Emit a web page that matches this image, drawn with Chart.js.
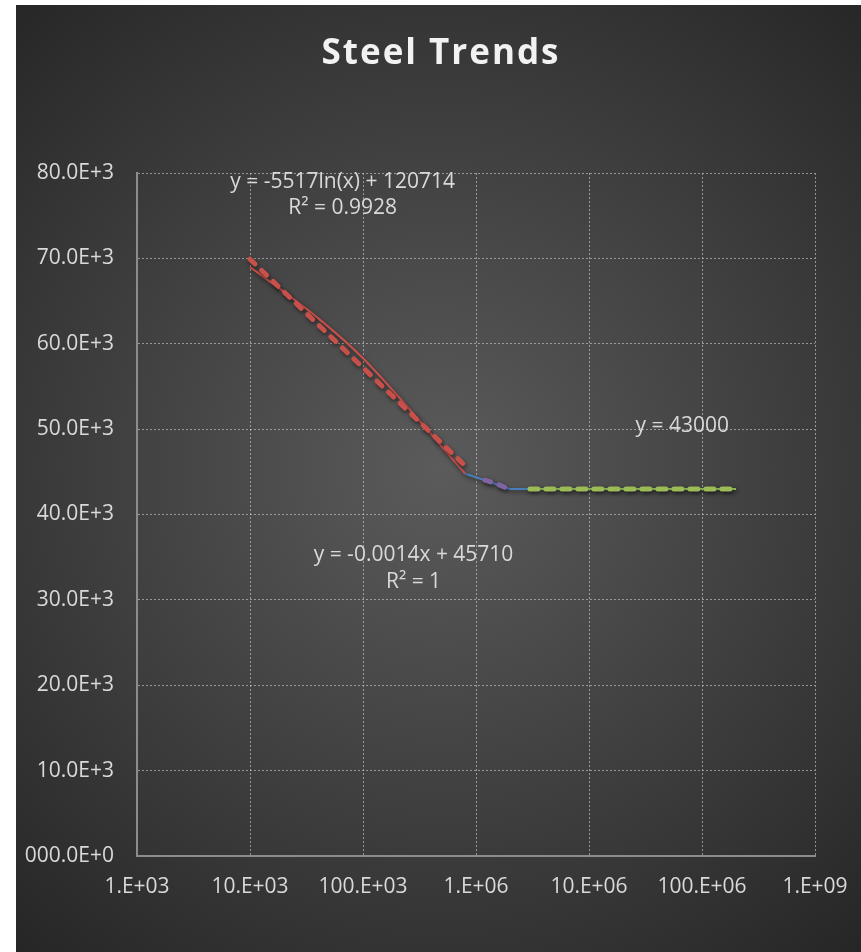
<!DOCTYPE html>
<html>
<head>
<meta charset="utf-8">
<title>Steel Trends</title>
<script src="https://cdn.jsdelivr.net/npm/chart.js@4/dist/chart.umd.min.js"></script>
<style>
  html, body { margin: 0; padding: 0; background: #ffffff; }
  #c { display: block; }
</style>
</head>
<body>
<canvas id="c" width="861" height="952"></canvas>
<script>
// ---- axis ticks ----
const xTickValues = [1e3, 1e4, 1e5, 1e6, 1e7, 1e8, 1e9];
const xTickLabels = ["1.E+03", "10.E+03", "100.E+03", "1.E+06", "10.E+06", "100.E+06", "1.E+09"];
const yTickValues = [0, 10000, 20000, 30000, 40000, 50000, 60000, 70000, 80000];
const yTickLabels = ["000.0E+0", "10.0E+3", "20.0E+3", "30.0E+3", "40.0E+3", "50.0E+3", "60.0E+3", "70.0E+3", "80.0E+3"];

// ---- S-N data (cycles vs. stress) ----
const slopeCycles = [1e4, 4e4, 1e5, 8e5];
const slopeStress = [69000, 63000, 58300, 44800];
const kneeCycles = [8e5, 2e6, 3e6];
const kneeStress = [44800, 43000, 43000];
const enduranceCycles = [3e6, 2e8];
const enduranceStress = [43000, 43000];

// ---- fitted trend lines ----
const logFitA = -5517, logFitB = 120714, logFitR2 = "0.9928";
const logFitRange = [1e4, 8e5];
const linFitM = -0.0014, linFitC = 45710, linFitR2 = "1";
const linFitCycles = [1.2e6, 1.4e6, 1.6e6, 1.8e6, 2e6];
const flatFitValue = 43000;
const flatFitRange = [3e6, 2e8];

const pts = (xs, ys) => xs.map((x, i) => ({ x: x, y: ys[i] }));
const logFitPts = logFitRange.map(x => ({ x: x, y: logFitA * Math.log(x) + logFitB }));
const linFitPts = linFitCycles.map(x => ({ x: x, y: linFitM * x + linFitC }));
const flatFitPts = flatFitRange.map(x => ({ x: x, y: flatFitValue }));

const RED = '#c8504b', BLUE = '#4a7ebb', PURPLE = '#8064a2', GREEN = '#9bbb59';
const TEXT = '#d9d9d9';
const GRID = 'rgba(210,210,210,0.6)';
const FONT = "'Open Sans', 'DejaVu Sans', sans-serif";

// dark panel with a soft radial glow
const panelBackground = {
  id: 'panelBackground',
  beforeDraw(chart) {
    const ctx = chart.ctx;
    ctx.save();
    ctx.fillStyle = '#ffffff';
    ctx.fillRect(0, 0, chart.width, chart.height);
    const g = ctx.createRadialGradient(440, 470, 0, 440, 470, 640);
    g.addColorStop(0, '#5b5b5b');
    g.addColorStop(1, '#262626');
    ctx.fillStyle = g;
    ctx.fillRect(16, 5, chart.width - 16, chart.height - 5);
    ctx.restore();
  }
};

// drop shadow under every line
const lineShadow = {
  id: 'lineShadow',
  beforeDatasetDraw(chart) {
    const ctx = chart.ctx;
    ctx.save();
    ctx.shadowColor = 'rgba(0,0,0,0.55)';
    ctx.shadowBlur = 4;
    ctx.shadowOffsetX = 1;
    ctx.shadowOffsetY = 2;
  },
  afterDatasetDraw(chart) { chart.ctx.restore(); }
};

// title and trendline equations
const labelsPlugin = {
  id: 'labelsPlugin',
  afterDraw(chart) {
    const ctx = chart.ctx;
    const xs = chart.scales.x, ys = chart.scales.y;
    ctx.save();
    ctx.textAlign = 'center';
    ctx.textBaseline = 'middle';

    ctx.fillStyle = '#f2f2f2';
    ctx.font = "bold 35px " + FONT;
    if ('letterSpacing' in ctx) ctx.letterSpacing = '2px';
    ctx.fillText('Steel Trends', 441, 54);
    if ('letterSpacing' in ctx) ctx.letterSpacing = '0px';

    ctx.fillStyle = TEXT;
    ctx.font = "21px " + FONT;
    const put = (txt, xv, yv) => ctx.fillText(txt, xs.getPixelForValue(xv), ys.getPixelForValue(yv));
    put('y = ' + logFitA + 'ln(x) + ' + logFitB, 6.6e4, 78950);
    put('R\u00B2 = ' + logFitR2, 6.6e4, 75850);
    put('y = ' + linFitM + 'x + ' + linFitC, 2.8e5, 35250);
    put('R\u00B2 = ' + linFitR2, 2.8e5, 32100);
    put('y = ' + flatFitValue, 6.7e7, 50400);
    ctx.restore();
  }
};

const lineDefaults = { showLine: true, pointRadius: 0, pointHoverRadius: 0, fill: false };

new Chart(document.getElementById('c'), {
  type: 'scatter',
  data: {
    datasets: [
      Object.assign({}, lineDefaults, {
        label: 'Log trend', data: logFitPts, borderColor: RED, borderWidth: 5,
        borderDash: [7, 9], borderCapStyle: 'round', order: 1
      }),
      Object.assign({}, lineDefaults, {
        label: 'Linear trend', data: linFitPts, borderColor: PURPLE, borderWidth: 5,
        borderDash: [6, 9], borderCapStyle: 'round', order: 1
      }),
      Object.assign({}, lineDefaults, {
        label: 'Endurance trend', data: flatFitPts, borderColor: GREEN, borderWidth: 5,
        borderDash: [8, 8], borderCapStyle: 'round', order: 1
      }),
      Object.assign({}, lineDefaults, {
        label: 'Finite life', data: pts(slopeCycles, slopeStress), borderColor: RED, borderWidth: 2,
        cubicInterpolationMode: 'monotone', order: 2
      }),
      Object.assign({}, lineDefaults, {
        label: 'Knee', data: pts(kneeCycles, kneeStress), borderColor: BLUE, borderWidth: 2, order: 2
      }),
      Object.assign({}, lineDefaults, {
        label: 'Endurance', data: pts(enduranceCycles, enduranceStress), borderColor: GREEN, borderWidth: 2, order: 2
      })
    ]
  },
  options: {
    responsive: false,
    animation: false,
    devicePixelRatio: 1,
    layout: { padding: { top: 173, right: 46, bottom: 0, left: 0 } },
    plugins: { legend: { display: false }, tooltip: { enabled: false }, title: { display: false } },
    scales: {
      x: {
        type: 'logarithmic',
        min: xTickValues[0],
        max: xTickValues[xTickValues.length - 1],
        afterBuildTicks(scale) { scale.ticks = xTickValues.map(v => ({ value: v })); },
        afterFit(scale) { scale.height = 96; scale.paddingLeft = 0; scale.paddingRight = 0; },
        ticks: {
          color: TEXT, font: { family: FONT, size: 21 }, padding: 18, maxRotation: 0, autoSkip: false,
          callback(value) { const i = xTickValues.indexOf(value); return i >= 0 ? xTickLabels[i] : ''; }
        },
        grid: { color: GRID, lineWidth: 1, drawTicks: false },
        border: { display: true, color: '#8c8c8c', width: 2, dash: [2, 2] }
      },
      y: {
        type: 'linear',
        min: yTickValues[0],
        max: yTickValues[yTickValues.length - 1],
        afterBuildTicks(scale) { scale.ticks = yTickValues.map(v => ({ value: v })); },
        afterFit(scale) { scale.width = 137; scale.paddingTop = 0; scale.paddingBottom = 0; },
        ticks: {
          color: TEXT, font: { family: FONT, size: 21 }, padding: 23,
          callback(value) { const i = yTickValues.indexOf(value); return i >= 0 ? yTickLabels[i] : ''; }
        },
        grid: { color: GRID, lineWidth: 1, drawTicks: false },
        border: { display: true, color: '#8c8c8c', width: 2, dash: [2, 2] }
      }
    }
  },
  plugins: [panelBackground, lineShadow, labelsPlugin]
});
</script>
</body>
</html>
